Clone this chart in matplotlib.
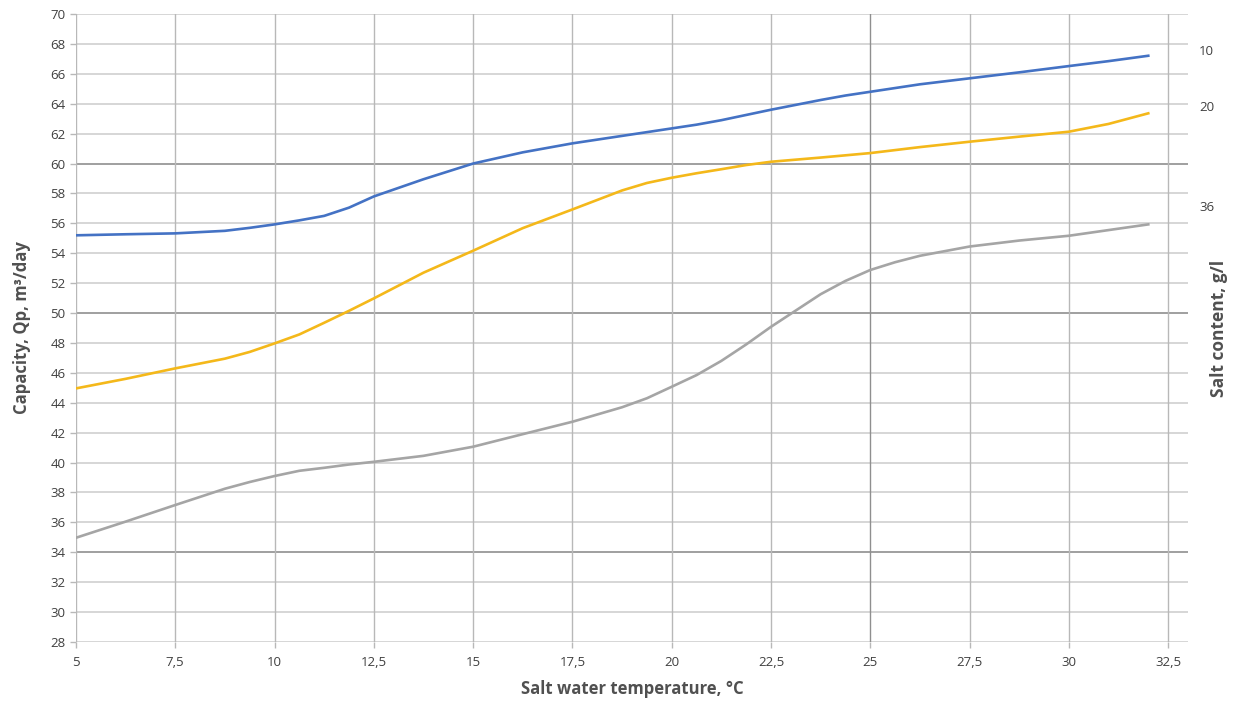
import numpy as np
import matplotlib.pyplot as plt

# temperature, deg C
temp = [5, 6.25, 7.5, 8.75, 9.375, 10, 10.625, 11.25, 11.875, 12.5, 13.75, 15, 16.25,
        17.5, 18.75, 19.375, 20, 20.625, 21.25, 21.875, 22.5, 23.75, 24.375, 25,
        25.625, 26.25, 27.5, 28.75, 30, 31, 32]

# capacity for salt content 10 g/l
q_10 = [55.2, 55.27, 55.33, 55.5, 55.7, 55.93, 56.2, 56.5, 57.05, 57.8, 58.95, 60.0, 60.75,
        61.35, 61.85, 62.1, 62.35, 62.6, 62.9, 63.25, 63.6, 64.25, 64.55, 64.8,
        65.05, 65.3, 65.7, 66.1, 66.52, 66.85, 67.21]
# 20 g/l
q_20 = [44.96, 45.6, 46.3, 46.95, 47.4, 47.97, 48.57, 49.35, 50.15, 50.98, 52.7, 54.17, 55.68,
        56.93, 58.2, 58.7, 59.05, 59.35, 59.62, 59.9, 60.12, 60.4, 60.55, 60.7,
        60.9, 61.1, 61.46, 61.8, 62.13, 62.65, 63.36]
# 36 g/l
q_36 = [34.97, 36.05, 37.16, 38.25, 38.7, 39.1, 39.45, 39.65, 39.87, 40.05, 40.45, 41.06, 41.9,
        42.73, 43.7, 44.3, 45.07, 45.85, 46.8, 47.9, 49.08, 51.26, 52.15, 52.88,
        53.4, 53.83, 54.45, 54.85, 55.17, 55.55, 55.93]

salt_labels = ['10', '20', '36']
salt_label_y = [67.6, 63.85, 57.15]

x_ticks = [5, 7.5, 10, 12.5, 15, 17.5, 20, 22.5, 25, 27.5, 30, 32.5]
y_ticks = list(range(28, 71, 2))
dark_y = [34, 50, 60]
dark_x = [25]

plt.rcParams['font.family'] = ['Open Sans', 'DejaVu Sans']

fig = plt.figure(figsize=(12.33, 7.02), dpi=100)
ax = fig.add_axes([0.0616, 0.0855, 0.9019, 0.8945])

ax.set_xlim(5, 33)
ax.set_ylim(28, 70)

# grid
for v in y_ticks:
    c = '#8f8f8f' if v in dark_y else '#cfcfcf'
    ax.axhline(v, color=c, lw=1.2, zorder=1)
for v in x_ticks:
    c = '#8f8f8f' if v in dark_x else '#b8b8b8'
    ax.axvline(v, color=c, lw=1.0, zorder=1)

ax.plot(temp, q_10, color='#4472C4', lw=1.9, zorder=3)
ax.plot(temp, q_20, color='#F4B81A', lw=1.9, zorder=3)
ax.plot(temp, q_36, color='#A5A5A5', lw=1.9, zorder=3)

for s in ax.spines.values():
    s.set_visible(False)

ax.set_xticks(x_ticks)
ax.set_xticklabels([str(t).replace('.', ',') for t in x_ticks])
ax.set_yticks(y_ticks)
ax.tick_params(axis='both', colors='#b8b8b8', length=4, width=1.0,
               labelcolor='#404040', labelsize=9.5)
ax.tick_params(axis='x', pad=6)

ax.set_xlabel('Salt water temperature, °C', fontsize=12, fontweight='bold',
              color='#505050', labelpad=8)
ax.set_ylabel('Capacity, Qp, m³/day', fontsize=12, fontweight='bold',
              color='#505050', labelpad=14)

ax2 = ax.twinx()
ax2.set_ylim(28, 70)
ax2.set_yticks(salt_label_y)
ax2.set_yticklabels(salt_labels)
ax2.tick_params(axis='y', length=0, pad=8, labelsize=9.5, labelcolor='#404040')
for s in ax2.spines.values():
    s.set_visible(False)
ax2.set_ylabel('Salt content, g/l', fontsize=12.5, fontweight='bold',
               color='#505050', labelpad=-3)

fig.savefig('out.png', dpi=100)
